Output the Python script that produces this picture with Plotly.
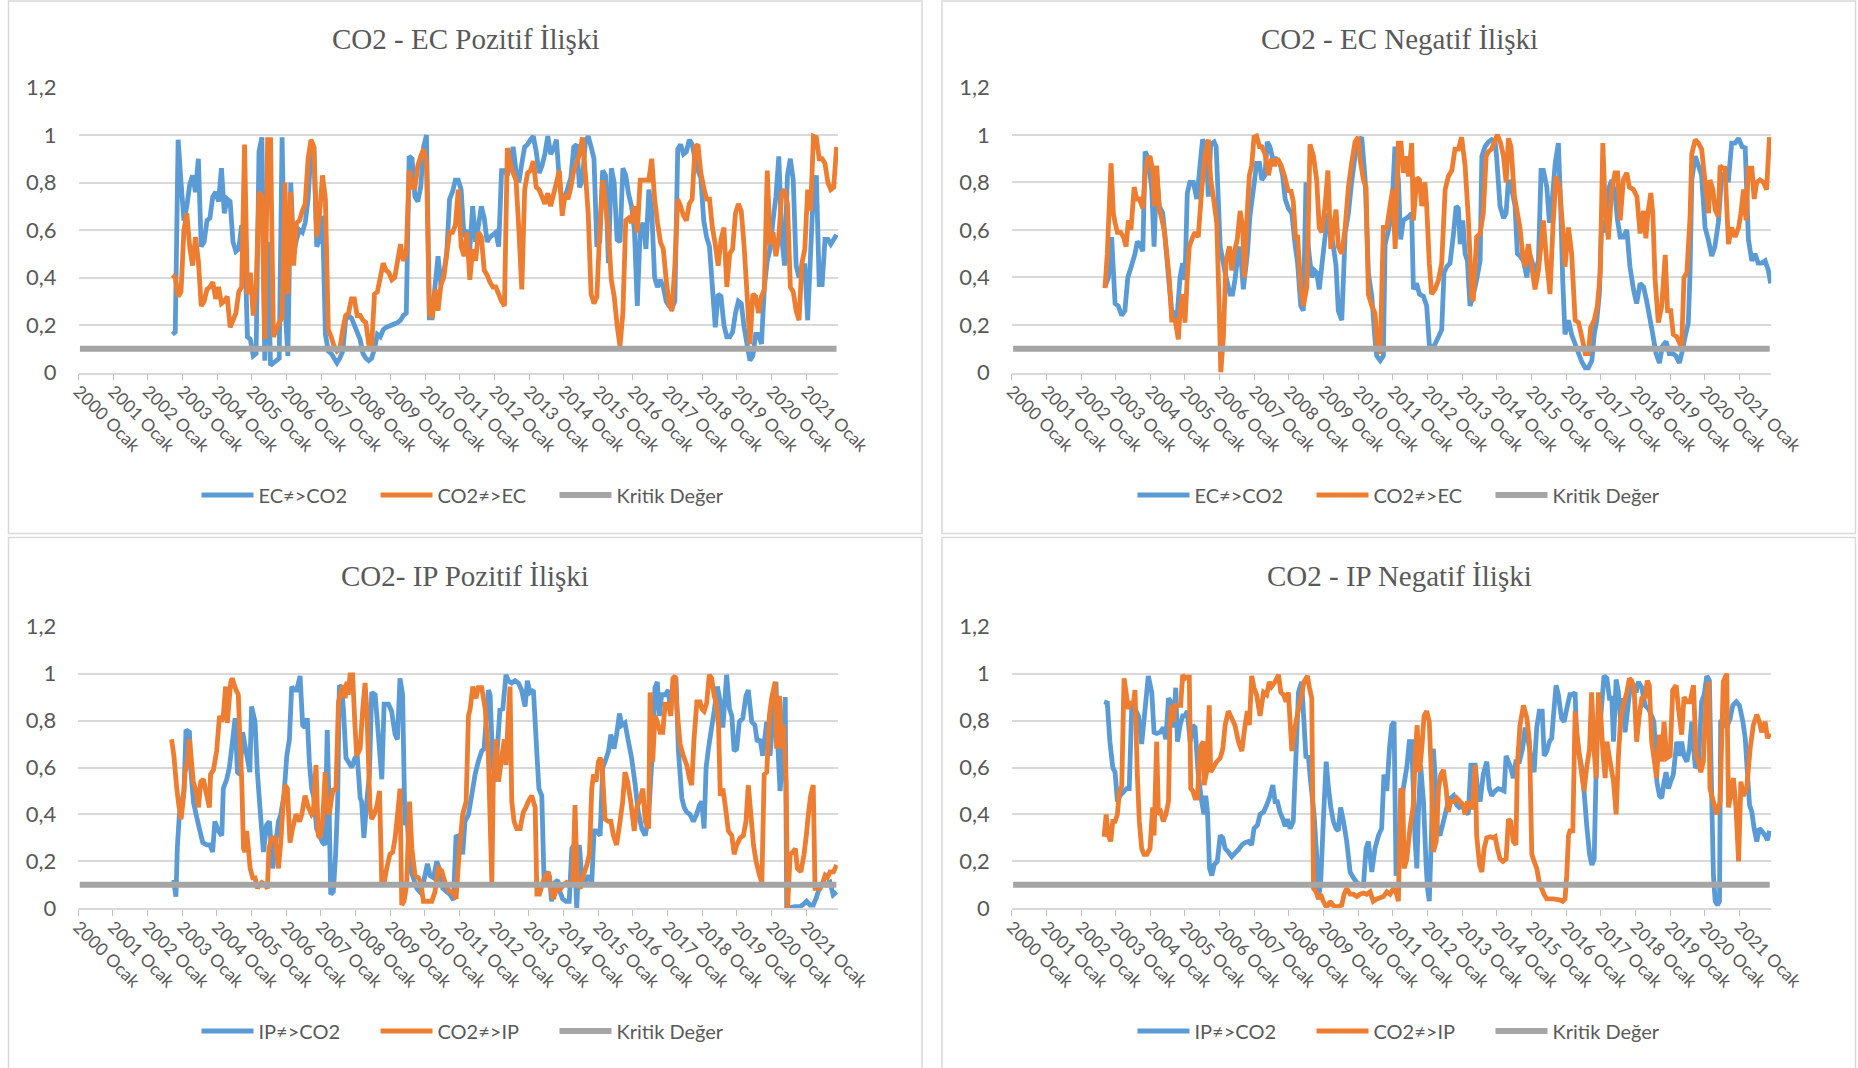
import plotly.graph_objects as go

#######################################################################################################################
# Data
#######################################################################################################################
# x positions are months counted from 2000 Ocak (0 = 2000 Ocak, 262 = 2021 Kasim)
n_months = 263
tick_years = [2000, 2001, 2002, 2003, 2004, 2005, 2006, 2007, 2008, 2009, 2010,
              2011, 2012, 2013, 2014, 2015, 2016, 2017, 2018, 2019, 2020, 2021]
tick_labels = ["2000 Ocak", "2001 Ocak", "2002 Ocak", "2003 Ocak", "2004 Ocak", "2005 Ocak",
               "2006 Ocak", "2007 Ocak", "2008 Ocak", "2009 Ocak", "2010 Ocak", "2011 Ocak",
               "2012 Ocak", "2013 Ocak", "2014 Ocak", "2015 Ocak", "2016 Ocak", "2017 Ocak",
               "2018 Ocak", "2019 Ocak", "2020 Ocak", "2021 Ocak"]
y_ticks = [0, 0.2, 0.4, 0.6, 0.8, 1.0, 1.2]
y_labels = ["0", "0,2", "0,4", "0,6", "0,8", "1", "1,2"]

kritik_x = [0, 262]
kritik_y = [0.1, 0.1]

# ==============================================================================
# CO2 - EC Pozitif (monthly, from 2002 Eylul = month 32)
# ==============================================================================
tl_start = 32
tl_ec_co2 = [
    0.16, 0.17, 0.98, 0.80, 0.64, 0.70, 0.79, 0.83, 0.76, 0.90,
    0.53, 0.55, 0.64, 0.65, 0.74, 0.76, 0.72, 0.86, 0.67, 0.73,
    0.72, 0.55, 0.51, 0.52, 0.62, 0.58, 0.15, 0.14, 0.07, 0.08,
    0.93, 0.99, 0.05, 0.55, 0.03, 0.04, 0.05, 0.06, 0.99, 0.28,
    0.07, 0.80, 0.50, 0.56, 0.60, 0.59, 0.63, 0.73, 0.93, 0.95,
    0.53, 0.56, 0.66, 0.16, 0.09, 0.08, 0.06, 0.04, 0.06, 0.09,
    0.22, 0.24, 0.23, 0.20, 0.17, 0.14, 0.08, 0.06, 0.05, 0.06,
    0.10, 0.16, 0.15, 0.18, 0.19, 0.195, 0.20, 0.205, 0.21, 0.22,
    0.24, 0.25, 0.91, 0.90, 0.74, 0.72, 0.78, 0.95, 1.00, 0.23,
    0.23, 0.37, 0.49, 0.37, 0.42, 0.50, 0.73, 0.76, 0.81, 0.81,
    0.77, 0.57, 0.60, 0.52, 0.70, 0.55, 0.62, 0.70, 0.65, 0.55,
    0.57, 0.58, 0.59, 0.53, 0.85, 0.85, 0.83, 0.88, 0.95, 0.85,
    0.80, 0.88, 0.95, 0.96, 0.98, 0.995, 0.93, 0.84, 0.87, 0.92,
    0.995, 0.92, 0.94, 0.98, 0.81, 0.72, 0.74, 0.78, 0.82, 0.95,
    0.96, 0.78, 0.81, 0.97, 0.995, 0.95, 0.90, 0.53, 0.55, 0.85,
    0.83, 0.46, 0.86, 0.80, 0.56, 0.55, 0.86, 0.83, 0.75, 0.70,
    0.60, 0.28, 0.60, 0.63, 0.52, 0.77, 0.68, 0.40, 0.36, 0.39,
    0.36, 0.30, 0.28, 0.27, 0.30, 0.94, 0.96, 0.92, 0.93, 0.98,
    0.96, 0.90, 0.85, 0.82, 0.64, 0.57, 0.53, 0.36, 0.19, 0.33,
    0.32, 0.20, 0.15, 0.15, 0.17, 0.25, 0.30, 0.29, 0.19, 0.12,
    0.05, 0.07, 0.16, 0.16, 0.12, 0.36, 0.47, 0.52, 0.64, 0.74,
    0.91, 0.57, 0.45, 0.83, 0.90, 0.81, 0.45, 0.40, 0.45, 0.45,
    0.22, 0.50, 0.77, 0.83, 0.37, 0.37, 0.56, 0.56, 0.54, 0.56, 0.58,
]
tl_co2_ec = [
    0.41, 0.40, 0.32, 0.34, 0.60, 0.67, 0.53, 0.45, 0.57, 0.47,
    0.28, 0.30, 0.35, 0.36, 0.38, 0.31, 0.36, 0.29, 0.30, 0.32,
    0.19, 0.22, 0.25, 0.34, 0.36, 0.96, 0.33, 0.42, 0.24, 0.36,
    0.76, 0.74, 0.14, 0.98, 0.98, 0.15, 0.18, 0.21, 0.23, 0.80,
    0.33, 0.76, 0.45, 0.63, 0.64, 0.68, 0.71, 0.90, 0.98, 0.95,
    0.57, 0.67, 0.83, 0.73, 0.18, 0.15, 0.11, 0.09, 0.10, 0.18,
    0.24, 0.25, 0.31, 0.31, 0.24, 0.24, 0.22, 0.21, 0.12, 0.11,
    0.33, 0.34, 0.40, 0.46, 0.43, 0.42, 0.39, 0.40, 0.47, 0.54,
    0.47, 0.50, 0.85, 0.78, 0.78, 0.87, 0.91, 0.94, 0.88, 0.25,
    0.23, 0.35, 0.26, 0.37, 0.40, 0.50, 0.59, 0.59, 0.62, 0.77,
    0.53, 0.49, 0.59, 0.39, 0.52, 0.47, 0.59, 0.57, 0.43, 0.41,
    0.38, 0.36, 0.36, 0.33, 0.30, 0.28, 0.945, 0.88, 0.84, 0.81,
    0.60, 0.35, 0.77, 0.84, 0.85, 0.89, 0.78, 0.77, 0.74, 0.71,
    0.755, 0.70, 0.75, 0.80, 0.85, 0.66, 0.75, 0.73, 0.78, 0.85,
    0.88, 0.92, 0.99, 0.84, 0.67, 0.33, 0.29, 0.32, 0.60, 0.81,
    0.71, 0.59, 0.39, 0.32, 0.20, 0.11, 0.25, 0.64, 0.65, 0.63,
    0.70, 0.59, 0.81, 0.81, 0.81, 0.81, 0.90, 0.73, 0.63, 0.55,
    0.52, 0.39, 0.29, 0.26, 0.45, 0.73, 0.70, 0.66, 0.64, 0.71,
    0.73, 0.95, 0.96, 0.84, 0.78, 0.73, 0.73, 0.61, 0.54, 0.45,
    0.56, 0.61, 0.36, 0.50, 0.52, 0.67, 0.71, 0.68, 0.53, 0.33,
    0.12, 0.33, 0.32, 0.25, 0.32, 0.35, 0.85, 0.54, 0.59, 0.49,
    0.57, 0.755, 0.77, 0.71, 0.36, 0.34, 0.26, 0.22, 0.46, 0.52,
    0.77, 0.68, 0.995, 0.99, 0.90, 0.90, 0.88, 0.80, 0.77, 0.78, 0.95,
]

# ==============================================================================
# CO2 - EC Negatif (month position, value)
# ==============================================================================
tr_ec_co2 = [
    (31.8, 0.36), (33.0, 0.40), (34.1, 0.57), (35.3, 0.29), (36.4, 0.28), (37.6, 0.24), (38.7, 0.26),
    (39.7, 0.40), (41.0, 0.45), (42.2, 0.50), (43.0, 0.55), (43.9, 0.54), (44.9, 0.51), (45.7, 0.93),
    (46.8, 0.90), (48.0, 0.77), (48.8, 0.53), (49.7, 0.83), (50.6, 0.70), (51.8, 0.67), (52.6, 0.57),
    (53.8, 0.40), (54.9, 0.26), (55.7, 0.25), (56.6, 0.21), (57.8, 0.40), (58.7, 0.46), (59.5, 0.39),
    (60.3, 0.755), (61.2, 0.80), (62.4, 0.80), (63.6, 0.73), (64.7, 0.87), (65.6, 0.98), (66.8, 0.95),
    (67.6, 0.74), (68.4, 0.96), (69.6, 0.97), (70.3, 0.95), (71.7, 0.53), (73.4, 0.42), (75.1, 0.33),
    (76.0, 0.33), (76.8, 0.39), (77.4, 0.45), (78.3, 0.53), (79.1, 0.45), (79.7, 0.35), (81.1, 0.50),
    (82.0, 0.66), (83.5, 0.80), (84.3, 0.88), (85.3, 0.88), (86.1, 0.81), (87.2, 0.83), (88.0, 0.97),
    (88.9, 0.95), (89.9, 0.90), (91.0, 0.90), (92.4, 0.88), (93.3, 0.83), (94.2, 0.73), (95.3, 0.69),
    (96.5, 0.67), (97.6, 0.54), (98.5, 0.46), (99.6, 0.28), (100.5, 0.26), (101.4, 0.80), (102.2, 0.53),
    (103.4, 0.40), (104.3, 0.43), (105.1, 0.42), (106.0, 0.35), (106.9, 0.45), (108.0, 0.57), (109.2, 0.67),
    (110.1, 0.59), (110.9, 0.53), (111.8, 0.45), (112.6, 0.26), (113.8, 0.22), (115.0, 0.59), (116.1, 0.67),
    (117.2, 0.80), (118.4, 0.91), (119.5, 0.97), (120.7, 0.99), (121.9, 0.81), (123.0, 0.42), (124.2, 0.32),
    (125.3, 0.14), (125.9, 0.07), (127.1, 0.05), (128.2, 0.07), (128.8, 0.54), (130.0, 0.60), (131.1, 0.67),
    (132.2, 0.95), (133.4, 0.81), (134.2, 0.56), (135.1, 0.64), (136.9, 0.655), (138.0, 0.67), (138.6, 0.35),
    (139.7, 0.375), (140.7, 0.33), (142.1, 0.32), (143.2, 0.28), (144.1, 0.12), (144.9, 0.094), (146.1, 0.12),
    (147.3, 0.15), (148.4, 0.18), (149.2, 0.42), (150.1, 0.445), (151.3, 0.46), (152.5, 0.585), (153.4, 0.70),
    (154.2, 0.69), (154.8, 0.54), (155.7, 0.64), (156.5, 0.50), (157.3, 0.47), (158.2, 0.28), (159.2, 0.32),
    (160.5, 0.39), (161.7, 0.47), (162.3, 0.91), (163.4, 0.95), (164.6, 0.97), (165.7, 0.98), (166.9, 0.97),
    (167.4, 0.91), (168.6, 0.70), (169.8, 0.65), (170.7, 0.67), (171.5, 0.81), (172.7, 0.77), (173.8, 0.70),
    (174.6, 0.50), (175.5, 0.49), (176.7, 0.47), (177.9, 0.40), (178.8, 0.50), (179.6, 0.47), (180.7, 0.42),
    (181.9, 0.47), (182.8, 0.85), (183.6, 0.85), (184.8, 0.78), (185.7, 0.63), (186.5, 0.70), (187.7, 0.88),
    (188.8, 0.965), (189.6, 0.70), (190.3, 0.39), (191.1, 0.16), (192.3, 0.22), (193.4, 0.16), (194.6, 0.12),
    (195.8, 0.08), (196.9, 0.045), (198.1, 0.02), (199.2, 0.02), (200.4, 0.05), (201.2, 0.16), (202.1, 0.22),
    (203.0, 0.33), (203.8, 0.64), (205.0, 0.59), (206.1, 0.77), (207.3, 0.81), (208.4, 0.75), (209.3, 0.64),
    (210.2, 0.57), (211.3, 0.57), (212.5, 0.60), (213.6, 0.445), (214.8, 0.35), (215.9, 0.29), (217.1, 0.375),
    (218.3, 0.36), (219.4, 0.30), (220.6, 0.22), (221.5, 0.16), (222.6, 0.08), (223.8, 0.04), (224.8, 0.11),
    (226.1, 0.13), (227.2, 0.08), (228.4, 0.08), (229.5, 0.07), (230.7, 0.04), (231.5, 0.08), (232.7, 0.15),
    (233.8, 0.21), (234.4, 0.42), (235.0, 0.81), (236.2, 0.91), (237.3, 0.87), (238.4, 0.83), (239.6, 0.61),
    (240.7, 0.56), (241.9, 0.49), (243.0, 0.53), (244.2, 0.63), (245.4, 0.84), (246.5, 0.81), (247.7, 0.81),
    (248.8, 0.965), (250.0, 0.965), (251.2, 0.985), (252.4, 0.95), (253.5, 0.945), (254.6, 0.56), (255.8, 0.47),
    (256.9, 0.50), (258.0, 0.46), (259.2, 0.46), (260.4, 0.47), (261.5, 0.43), (262.3, 0.375),
]
tr_co2_ec = [
    (31.8, 0.355), (32.6, 0.50), (33.9, 0.88), (34.7, 0.67), (35.3, 0.63), (36.1, 0.59), (37.2, 0.59),
    (38.2, 0.57), (39.1, 0.53), (39.9, 0.64), (40.8, 0.60), (41.9, 0.78), (42.8, 0.73), (43.7, 0.73),
    (44.9, 0.69), (45.7, 0.83), (46.6, 0.90), (47.4, 0.91), (48.3, 0.85), (48.9, 0.70), (49.7, 0.87),
    (50.6, 0.685), (51.2, 0.66), (52.3, 0.60), (53.2, 0.50), (54.1, 0.39), (54.9, 0.22), (56.1, 0.22),
    (57.2, 0.14), (57.8, 0.26), (58.7, 0.33), (59.5, 0.21), (60.3, 0.40), (61.0, 0.53), (62.2, 0.57),
    (63.0, 0.59), (64.1, 0.57), (65.3, 0.77), (66.5, 0.92), (67.6, 0.98), (68.4, 0.81), (69.3, 0.74),
    (70.5, 0.63), (71.4, 0.25), (71.9, 0.0), (72.8, 0.15), (73.7, 0.47), (74.9, 0.53), (75.7, 0.43),
    (76.5, 0.50), (77.6, 0.56), (78.6, 0.68), (79.5, 0.61), (80.1, 0.40), (80.9, 0.64), (81.8, 0.83),
    (82.6, 0.87), (83.4, 0.99), (84.3, 0.995), (85.3, 0.95), (86.1, 0.95), (87.2, 0.92), (88.4, 0.83),
    (89.5, 0.90), (90.5, 0.87), (91.6, 0.90), (92.8, 0.87), (93.9, 0.83), (95.3, 0.76), (96.1, 0.77),
    (97.0, 0.72), (97.8, 0.57), (98.5, 0.57), (99.6, 0.36), (100.5, 0.28), (101.7, 0.36), (102.8, 0.96),
    (104.0, 0.91), (105.1, 0.81), (106.0, 0.61), (106.9, 0.59), (108.0, 0.70), (109.0, 0.85), (110.0, 0.52),
    (110.9, 0.61), (111.8, 0.685), (112.6, 0.53), (113.8, 0.50), (114.9, 0.60), (116.1, 0.78), (117.2, 0.88),
    (118.4, 0.97), (119.5, 0.99), (120.1, 0.90), (121.3, 0.81), (122.2, 0.78), (123.0, 0.33), (124.2, 0.28),
    (125.3, 0.25), (126.1, 0.11), (127.1, 0.08), (128.2, 0.61), (129.4, 0.61), (130.5, 0.70), (131.4, 0.77),
    (132.3, 0.52), (133.4, 0.965), (134.3, 0.965), (135.1, 0.84), (136.1, 0.91), (136.9, 0.825), (138.0, 0.965),
    (138.6, 0.64), (139.8, 0.82), (140.7, 0.81), (141.5, 0.70), (142.6, 0.80), (143.2, 0.70), (144.1, 0.46),
    (144.9, 0.33), (146.1, 0.35), (147.3, 0.39), (148.4, 0.46), (149.6, 0.77), (150.7, 0.825), (151.9, 0.85),
    (153.0, 0.94), (154.2, 0.94), (155.3, 0.99), (156.5, 0.87), (157.6, 0.655), (158.8, 0.32), (159.3, 0.30),
    (160.5, 0.57), (161.7, 0.585), (162.8, 0.67), (163.8, 0.91), (164.6, 0.93), (165.7, 0.94), (166.9, 0.98),
    (167.7, 1.0), (168.8, 0.965), (169.8, 0.91), (170.7, 0.80), (171.5, 0.985), (172.4, 0.95), (173.6, 0.74),
    (174.6, 0.67), (175.5, 0.61), (176.5, 0.49), (177.3, 0.445), (178.4, 0.54), (179.6, 0.445), (180.7, 0.35),
    (181.9, 0.43), (183.6, 0.64), (184.8, 0.46), (185.9, 0.33), (186.9, 0.61), (188.0, 0.825), (189.2, 0.78),
    (190.3, 0.61), (191.1, 0.445), (192.3, 0.61), (193.4, 0.50), (194.6, 0.22), (195.8, 0.21), (196.9, 0.15),
    (198.1, 0.08), (199.2, 0.08), (200.0, 0.19), (201.2, 0.22), (202.3, 0.28), (203.3, 0.42), (204.2, 0.965),
    (205.0, 0.70), (206.1, 0.56), (207.3, 0.77), (208.4, 0.84), (209.3, 0.84), (210.2, 0.64), (211.3, 0.81),
    (212.5, 0.84), (213.4, 0.78), (214.8, 0.77), (216.0, 0.74), (217.1, 0.585), (218.3, 0.68), (219.1, 0.565),
    (219.8, 0.67), (220.8, 0.755), (221.5, 0.67), (222.3, 0.39), (223.4, 0.21), (224.6, 0.28), (225.8, 0.495),
    (226.6, 0.26), (227.7, 0.26), (228.6, 0.16), (229.8, 0.15), (230.9, 0.12), (231.5, 0.11), (232.3, 0.40),
    (233.3, 0.42), (234.4, 0.655), (235.0, 0.92), (236.2, 0.98), (237.3, 0.965), (238.4, 0.94), (239.6, 0.80),
    (240.8, 0.67), (241.3, 0.81), (242.3, 0.77), (243.1, 0.685), (244.2, 0.655), (244.8, 0.87), (245.7, 0.86),
    (246.5, 0.86), (247.7, 0.54), (248.8, 0.61), (250.0, 0.57), (251.2, 0.61), (252.0, 0.67), (252.9, 0.77),
    (253.8, 0.64), (254.6, 0.86), (255.8, 0.86), (256.6, 0.73), (257.5, 0.80), (258.6, 0.81), (259.8, 0.80),
    (260.9, 0.77), (261.9, 0.99),
]

# ==============================================================================
# CO2 - IP Pozitif (month position, value)
# ==============================================================================
bl_ip_co2 = [
    (31.8, 0.11), (32.6, 0.11), (33.3, 0.05), (33.8, 0.26), (34.5, 0.40), (35.3, 0.45), (36.1, 0.50),
    (36.8, 0.76), (38.0, 0.75), (38.4, 0.60), (39.4, 0.45), (40.3, 0.40), (41.4, 0.34), (42.6, 0.28),
    (44.0, 0.27), (45.1, 0.27), (46.0, 0.24), (46.8, 0.37), (48.0, 0.33), (49.2, 0.31), (49.7, 0.51),
    (50.9, 0.55), (51.8, 0.60), (52.6, 0.68), (53.8, 0.81), (54.6, 0.58), (55.5, 0.57), (56.4, 0.75),
    (58.9, 0.58), (59.5, 0.86), (60.7, 0.795), (61.5, 0.58), (62.4, 0.43), (63.6, 0.24), (64.7, 0.355),
    (65.7, 0.37), (66.8, 0.17), (67.7, 0.26), (68.8, 0.37), (69.6, 0.40), (70.7, 0.48), (71.7, 0.65),
    (72.6, 0.72), (73.4, 0.945), (74.2, 0.93), (75.1, 0.93), (76.3, 0.99), (77.2, 0.78), (78.0, 0.77),
    (78.8, 0.81), (79.5, 0.625), (80.3, 0.51), (81.1, 0.47), (82.0, 0.34), (83.0, 0.31), (84.1, 0.28),
    (84.9, 0.27), (85.7, 0.76), (86.4, 0.40), (86.9, 0.06), (87.8, 0.07), (88.6, 0.23), (89.3, 0.45),
    (89.9, 0.95), (90.7, 0.94), (91.3, 0.85), (92.2, 0.64), (93.0, 0.625), (94.2, 0.60), (95.3, 0.64),
    (96.1, 0.65), (97.1, 0.47), (97.6, 0.455), (98.4, 0.30), (99.4, 0.455), (100.3, 0.57), (101.1, 0.92),
    (102.3, 0.91), (103.4, 0.74), (104.6, 0.55), (105.4, 0.87), (106.9, 0.87), (108.0, 0.84), (109.2, 0.74),
    (110.0, 0.72), (110.9, 0.98), (111.8, 0.91), (112.6, 0.355), (113.4, 0.37), (114.4, 0.17), (115.5, 0.13),
    (116.7, 0.085), (117.8, 0.07), (119.0, 0.11), (120.4, 0.19), (121.3, 0.14), (122.5, 0.13), (123.6, 0.20),
    (124.5, 0.17), (125.7, 0.085), (127.1, 0.07), (128.2, 0.06), (129.4, 0.035), (130.3, 0.305), (131.5, 0.31),
    (132.6, 0.23), (133.4, 0.37), (134.6, 0.40), (135.7, 0.48), (136.9, 0.57), (138.0, 0.625), (139.2, 0.67),
    (140.0, 0.68), (141.5, 0.93), (142.1, 0.91), (143.0, 0.625), (143.8, 0.54), (144.6, 0.68), (145.5, 0.845),
    (146.5, 0.85), (147.6, 0.995), (148.4, 0.97), (149.6, 0.96), (150.7, 0.97), (151.9, 0.96), (153.0, 0.93),
    (154.2, 0.86), (155.0, 0.97), (155.9, 0.92), (157.1, 0.93), (158.2, 0.68), (159.0, 0.51), (160.0, 0.48),
    (160.8, 0.11), (161.7, 0.13), (162.6, 0.14), (163.4, 0.03), (164.6, 0.11), (165.5, 0.12), (166.3, 0.07),
    (167.2, 0.04), (168.4, 0.03), (169.5, 0.03), (170.4, 0.255), (171.2, 0.27), (172.1, 0.0), (173.0, 0.27),
    (173.8, 0.14), (175.0, 0.11), (176.1, 0.14), (177.3, 0.11), (178.1, 0.33), (179.0, 0.33), (180.2, 0.31),
    (181.1, 0.60), (181.9, 0.625), (183.1, 0.67), (183.9, 0.74), (185.0, 0.68), (185.9, 0.74), (186.9, 0.83),
    (187.7, 0.78), (188.8, 0.79), (190.0, 0.71), (191.1, 0.64), (192.3, 0.53), (193.4, 0.41), (194.6, 0.34),
    (195.8, 0.31), (196.9, 0.38), (198.1, 0.625), (199.2, 0.94), (200.0, 0.965), (200.7, 0.82), (201.5, 0.91),
    (202.7, 0.91), (203.8, 0.93), (204.6, 0.84), (205.6, 0.965), (206.5, 0.97), (207.3, 0.67), (208.5, 0.47),
    (209.3, 0.43), (210.2, 0.41), (211.3, 0.40), (212.5, 0.37), (213.6, 0.40), (214.6, 0.44), (215.4, 0.455),
    (216.2, 0.34), (216.9, 0.60), (217.7, 0.68), (218.8, 0.77), (219.7, 0.84), (220.8, 0.945), (221.8, 0.88),
    (222.7, 0.77), (223.5, 0.905), (224.0, 0.995), (225.0, 0.85), (225.8, 0.82), (226.6, 0.67), (227.5, 0.68),
    (228.4, 0.795), (229.6, 0.81), (230.7, 0.905), (231.5, 0.93), (232.7, 0.795), (233.8, 0.78), (234.6, 0.71),
    (235.6, 0.72), (236.5, 0.65), (237.9, 0.795), (239.0, 0.65), (240.2, 0.82), (241.1, 0.965), (241.9, 0.65),
    (242.5, 0.50), (243.4, 0.65), (244.3, 0.90), (244.8, 0.0), (246.0, 0.003), (247.7, 0.007), (249.4, 0.007),
    (250.6, 0.017), (251.7, 0.03), (252.9, 0.014), (254.0, 0.014), (254.9, 0.04), (256.1, 0.085), (257.5, 0.11),
    (258.6, 0.10), (259.8, 0.11), (260.9, 0.057), (262.1, 0.07),
]
bl_co2_ip = [
    (31.8, 0.72), (32.6, 0.65), (33.6, 0.51), (34.3, 0.44), (35.1, 0.38), (35.9, 0.47), (36.5, 0.58),
    (37.3, 0.625), (38.0, 0.72), (38.7, 0.625), (39.3, 0.54), (40.3, 0.50), (41.1, 0.43), (41.9, 0.54),
    (42.8, 0.55), (44.0, 0.48), (44.9, 0.43), (45.3, 0.57), (46.3, 0.59), (47.4, 0.67), (48.4, 0.82),
    (49.2, 0.795), (49.7, 0.82), (50.5, 0.945), (51.1, 0.79), (51.8, 0.895), (52.3, 0.965), (52.8, 0.98),
    (53.8, 0.94), (54.9, 0.91), (55.5, 0.71), (56.1, 0.54), (56.7, 0.255), (57.2, 0.24), (57.8, 0.33),
    (58.4, 0.255), (59.0, 0.17), (59.9, 0.13), (60.7, 0.13), (61.5, 0.085), (62.2, 0.10), (63.0, 0.11),
    (64.2, 0.10), (65.0, 0.085), (65.5, 0.255), (66.5, 0.30), (67.6, 0.30), (68.8, 0.17), (69.6, 0.28),
    (70.5, 0.455), (71.1, 0.525), (71.9, 0.51), (72.8, 0.28), (73.7, 0.34), (74.9, 0.40), (76.1, 0.37),
    (76.9, 0.40), (78.0, 0.48), (79.2, 0.43), (80.3, 0.40), (80.9, 0.41), (81.8, 0.61), (82.6, 0.31),
    (83.2, 0.30), (84.1, 0.37), (85.0, 0.58), (85.5, 0.43), (86.4, 0.40), (87.2, 0.47), (87.8, 0.51),
    (88.7, 0.50), (89.6, 0.88), (90.4, 0.92), (91.3, 0.95), (91.9, 0.895), (92.5, 0.965), (93.0, 0.91),
    (93.6, 0.995), (94.5, 0.995), (95.3, 0.78), (95.9, 0.65), (97.1, 0.68), (98.0, 0.85), (98.8, 0.96),
    (99.4, 0.85), (100.5, 0.43), (101.1, 0.38), (101.9, 0.40), (102.8, 0.43), (103.8, 0.50), (104.6, 0.10),
    (105.4, 0.11), (106.3, 0.17), (107.4, 0.23), (108.4, 0.24), (109.2, 0.30), (110.3, 0.43), (110.9, 0.51),
    (111.5, 0.014), (112.3, 0.03), (113.2, 0.10), (114.2, 0.455), (115.0, 0.255), (116.1, 0.14), (117.3, 0.13),
    (118.1, 0.11), (119.0, 0.03), (121.9, 0.03), (123.0, 0.07), (124.2, 0.17), (125.3, 0.16), (126.5, 0.11),
    (128.0, 0.07), (129.2, 0.07), (130.3, 0.04), (131.5, 0.255), (132.6, 0.40), (133.8, 0.455), (134.6, 0.82),
    (135.2, 0.85), (136.1, 0.945), (137.2, 0.895), (138.0, 0.94), (139.2, 0.94), (140.4, 0.85), (141.5, 0.65),
    (142.7, 0.11), (143.2, 0.54), (144.2, 0.72), (145.0, 0.54), (146.1, 0.64), (147.0, 0.72), (147.6, 0.61),
    (148.4, 0.82), (149.0, 0.945), (149.6, 0.455), (150.4, 0.37), (151.3, 0.34), (152.5, 0.34), (153.6, 0.41),
    (154.5, 0.43), (155.3, 0.455), (156.5, 0.48), (157.7, 0.43), (158.3, 0.06), (159.2, 0.06), (160.3, 0.11),
    (161.5, 0.14), (162.3, 0.155), (163.2, 0.085), (164.0, 0.04), (165.2, 0.085), (166.3, 0.08), (167.5, 0.10),
    (168.6, 0.11), (169.6, 0.10), (170.7, 0.10), (171.5, 0.44), (172.3, 0.10), (173.3, 0.085), (174.4, 0.14),
    (175.6, 0.185), (176.5, 0.23), (177.3, 0.51), (177.9, 0.57), (178.8, 0.54), (179.6, 0.625), (180.2, 0.64),
    (180.8, 0.625), (181.9, 0.38), (183.1, 0.37), (183.9, 0.37), (184.8, 0.31), (185.9, 0.27), (187.1, 0.37),
    (188.0, 0.455), (188.8, 0.58), (189.7, 0.54), (190.8, 0.455), (192.0, 0.33), (192.9, 0.43), (193.8, 0.455),
    (195.0, 0.51), (195.8, 0.37), (197.0, 0.34), (197.5, 0.92), (198.4, 0.625), (199.2, 0.82), (200.0, 0.795),
    (201.0, 0.75), (201.9, 0.75), (202.7, 0.87), (203.8, 0.87), (204.7, 0.82), (205.4, 0.98), (206.2, 0.99),
    (206.8, 0.85), (207.9, 0.70), (209.0, 0.65), (210.2, 0.61), (211.1, 0.555), (211.9, 0.525), (212.7, 0.72),
    (213.7, 0.88), (214.8, 0.88), (215.4, 0.85), (216.2, 0.84), (217.1, 0.875), (218.0, 0.995), (218.8, 0.98),
    (219.7, 0.905), (220.3, 0.88), (221.2, 0.78), (221.8, 0.48), (222.7, 0.51), (223.5, 0.44), (224.6, 0.33),
    (225.8, 0.31), (226.6, 0.23), (227.5, 0.27), (228.7, 0.30), (229.8, 0.31), (230.7, 0.37), (231.5, 0.525),
    (232.4, 0.40), (233.3, 0.27), (234.2, 0.20), (235.4, 0.14), (236.2, 0.11), (237.0, 0.57), (237.9, 0.58),
    (238.8, 0.82), (239.6, 0.895), (240.8, 0.965), (241.3, 0.68), (242.3, 0.905), (243.1, 0.68), (243.7, 0.78),
    (244.6, 0.54), (245.1, 0.0), (246.0, 0.23), (247.0, 0.24), (247.8, 0.255), (248.5, 0.17), (249.7, 0.155),
    (250.8, 0.23), (251.5, 0.30), (252.3, 0.40), (253.1, 0.48), (254.0, 0.525), (254.6, 0.085), (255.4, 0.085),
    (256.4, 0.085), (257.3, 0.11), (258.1, 0.14), (258.9, 0.13), (259.8, 0.155), (261.0, 0.155), (262.1, 0.185),
]

# ==============================================================================
# CO2 - IP Negatif (month position, value)
# ==============================================================================
br_ip_co2 = [
    (31.5, 0.88), (32.6, 0.875), (33.5, 0.71), (34.5, 0.60), (35.3, 0.58), (36.1, 0.455), (37.0, 0.48),
    (39.3, 0.51), (40.2, 0.51), (41.1, 0.87), (42.2, 0.85), (43.4, 0.82), (44.5, 0.70), (46.8, 0.99),
    (48.0, 0.92), (48.8, 0.75), (49.7, 0.745), (50.9, 0.75), (52.0, 0.77), (52.9, 0.72), (53.8, 0.895),
    (54.6, 0.88), (55.5, 0.77), (56.3, 0.94), (56.9, 0.71), (57.8, 0.78), (58.7, 0.82), (59.5, 0.82),
    (60.3, 0.84), (61.3, 0.71), (62.2, 0.78), (63.0, 0.77), (64.1, 0.57), (65.3, 0.455), (66.1, 0.40),
    (66.7, 0.48), (67.3, 0.41), (68.0, 0.17), (68.8, 0.14), (69.6, 0.185), (70.7, 0.20), (71.7, 0.31),
    (72.6, 0.30), (73.4, 0.255), (74.5, 0.24), (75.7, 0.22), (76.8, 0.235), (78.0, 0.25), (79.2, 0.27),
    (80.3, 0.28), (81.5, 0.285), (82.6, 0.27), (83.4, 0.34), (84.6, 0.355), (85.5, 0.40), (86.7, 0.41),
    (87.8, 0.44), (89.0, 0.48), (89.9, 0.525), (90.7, 0.455), (91.5, 0.455), (92.4, 0.41), (93.4, 0.38),
    (94.2, 0.35), (95.0, 0.38), (95.9, 0.34), (97.0, 0.37), (98.0, 0.67), (98.8, 0.92), (99.9, 0.965),
    (100.7, 0.795), (101.4, 0.64), (102.2, 0.65), (103.0, 0.54), (104.2, 0.40), (105.1, 0.23), (105.7, 0.04),
    (106.5, 0.11), (107.4, 0.37), (108.4, 0.625), (109.2, 0.51), (110.0, 0.43), (110.9, 0.37), (111.8, 0.34),
    (112.6, 0.33), (113.4, 0.43), (114.4, 0.37), (115.5, 0.285), (116.7, 0.155), (117.8, 0.13), (119.0, 0.11),
    (120.1, 0.10), (121.3, 0.097), (122.2, 0.255), (123.0, 0.285), (124.2, 0.155), (125.3, 0.255), (126.5, 0.31),
    (127.6, 0.34), (128.4, 0.57), (129.4, 0.50), (130.3, 0.68), (131.1, 0.78), (131.9, 0.795), (132.6, 0.14),
    (133.4, 0.155), (134.2, 0.40), (135.1, 0.51), (136.3, 0.60), (137.2, 0.71), (138.0, 0.71), (139.2, 0.285),
    (139.8, 0.17), (140.3, 0.40), (141.1, 0.61), (142.1, 0.455), (143.0, 0.185), (143.5, 0.085), (144.1, 0.03),
    (144.9, 0.33), (145.5, 0.68), (146.1, 0.57), (146.9, 0.33), (147.8, 0.31), (148.7, 0.355), (149.6, 0.40),
    (150.7, 0.455), (151.5, 0.47), (152.5, 0.48), (153.6, 0.44), (154.5, 0.43), (155.7, 0.44), (156.8, 0.41),
    (157.6, 0.40), (158.5, 0.61), (160.0, 0.61), (160.8, 0.51), (161.7, 0.455), (162.8, 0.57), (164.0, 0.625),
    (164.9, 0.51), (165.7, 0.48), (166.9, 0.50), (168.0, 0.51), (169.2, 0.505), (170.0, 0.50), (170.7, 0.65),
    (171.5, 0.625), (172.3, 0.60), (173.2, 0.555), (174.1, 0.625), (175.3, 0.625), (176.4, 0.68), (177.3, 0.77),
    (178.4, 0.71), (179.6, 0.625), (180.4, 0.58), (181.3, 0.77), (182.2, 0.84), (183.2, 0.84), (183.9, 0.65),
    (184.8, 0.67), (185.7, 0.71), (186.5, 0.725), (187.1, 0.82), (188.0, 0.95), (188.8, 0.91), (189.9, 0.81),
    (190.8, 0.795), (191.7, 0.85), (192.8, 0.91), (193.8, 0.91), (194.6, 0.92), (195.2, 0.68), (196.1, 0.65),
    (196.9, 0.60), (197.7, 0.50), (198.6, 0.355), (199.6, 0.23), (200.4, 0.185), (201.2, 0.21), (202.1, 0.71),
    (202.7, 0.85), (203.5, 0.82), (204.6, 0.99), (205.6, 0.98), (206.5, 0.895), (207.3, 0.895), (207.9, 0.71),
    (208.8, 0.975), (209.6, 0.92), (210.4, 0.795), (211.1, 0.895), (211.9, 0.75), (213.1, 0.88), (213.9, 0.965),
    (214.8, 0.95), (215.7, 0.92), (216.5, 0.965), (217.7, 0.94), (218.8, 0.865), (220.0, 0.85), (221.1, 0.82),
    (221.9, 0.795), (222.9, 0.54), (223.8, 0.48), (224.6, 0.47), (225.4, 0.54), (226.1, 0.58), (226.9, 0.51),
    (227.7, 0.54), (228.6, 0.57), (229.8, 0.71), (230.7, 0.65), (231.5, 0.71), (232.3, 0.65), (233.3, 0.625),
    (234.2, 0.68), (235.0, 0.795), (236.2, 0.60), (237.3, 0.61), (238.4, 0.88), (239.3, 0.91), (240.2, 0.99),
    (241.1, 0.97), (241.9, 0.47), (242.5, 0.14), (243.1, 0.03), (243.9, 0.014), (244.6, 0.03), (245.0, 0.795),
    (245.9, 0.81), (247.1, 0.77), (248.3, 0.81), (249.2, 0.865), (250.4, 0.88), (251.5, 0.865), (252.7, 0.795),
    (253.5, 0.725), (254.3, 0.57), (255.0, 0.44), (255.8, 0.41), (256.6, 0.34), (257.5, 0.285), (258.4, 0.34),
    (259.2, 0.33), (260.4, 0.31), (261.2, 0.29), (261.9, 0.33),
]
br_co2_ip = [
    (31.5, 0.305), (32.2, 0.40), (33.0, 0.31), (33.8, 0.285), (34.5, 0.37), (35.3, 0.37), (36.1, 0.40),
    (36.8, 0.50), (37.6, 0.52), (38.4, 0.98), (39.1, 0.92), (39.9, 0.85), (41.1, 0.88), (41.6, 0.87),
    (42.2, 0.93), (43.0, 0.57), (43.7, 0.37), (44.5, 0.255), (45.3, 0.23), (46.3, 0.23), (47.4, 0.255),
    (48.3, 0.43), (48.8, 0.31), (49.7, 0.71), (50.3, 0.40), (51.1, 0.41), (52.0, 0.37), (52.9, 0.40),
    (53.8, 0.455), (54.3, 0.795), (54.9, 0.865), (55.5, 0.795), (56.1, 0.865), (57.2, 0.865), (58.0, 0.865),
    (58.7, 0.995), (59.5, 0.98), (60.1, 0.985), (61.0, 0.985), (61.5, 0.51), (62.2, 0.50), (63.0, 0.47),
    (63.8, 0.47), (64.7, 0.68), (65.3, 0.70), (65.9, 0.71), (66.1, 0.525), (67.0, 0.58), (67.9, 0.865),
    (68.4, 0.58), (69.3, 0.60), (70.5, 0.625), (71.7, 0.64), (72.6, 0.68), (73.4, 0.78), (74.5, 0.84),
    (75.7, 0.81), (76.8, 0.78), (78.0, 0.71), (79.2, 0.67), (80.3, 0.78), (81.1, 0.84), (81.8, 0.78),
    (82.6, 0.99), (83.4, 0.94), (84.3, 0.91), (85.5, 0.82), (86.7, 0.92), (87.8, 0.91), (88.7, 0.965),
    (89.5, 0.945), (90.7, 0.965), (91.9, 0.995), (92.7, 0.92), (93.6, 0.91), (94.5, 0.88), (95.3, 0.92),
    (96.5, 0.67), (97.3, 0.75), (98.2, 0.81), (99.1, 0.865), (99.9, 0.91), (100.7, 0.965), (101.9, 0.99),
    (102.6, 0.94), (103.4, 0.895), (104.0, 0.085), (104.9, 0.07), (105.7, 0.04), (106.5, 0.06), (107.4, 0.03),
    (108.4, 0.007), (109.2, 0.014), (109.7, 0.03), (110.7, 0.014), (111.5, 0.007), (112.6, 0.007), (113.8, 0.014),
    (114.6, 0.06), (115.5, 0.085), (116.7, 0.06), (117.8, 0.06), (119.0, 0.05), (120.1, 0.06), (121.3, 0.065),
    (122.4, 0.06), (123.6, 0.07), (124.7, 0.03), (125.9, 0.04), (127.1, 0.045), (128.2, 0.05), (129.4, 0.07),
    (130.5, 0.06), (131.7, 0.085), (132.8, 0.06), (133.4, 0.03), (134.2, 0.51), (134.9, 0.50), (135.4, 0.17),
    (136.3, 0.21), (137.4, 0.34), (138.6, 0.44), (139.2, 0.64), (139.9, 0.78), (140.7, 0.58), (141.5, 0.68),
    (142.3, 0.82), (143.2, 0.84), (144.1, 0.795), (144.9, 0.54), (145.5, 0.24), (146.5, 0.285), (147.3, 0.51),
    (148.1, 0.57), (149.0, 0.59), (149.9, 0.51), (150.7, 0.41), (151.5, 0.455), (152.7, 0.455), (153.6, 0.47),
    (154.8, 0.455), (155.7, 0.44), (156.5, 0.40), (157.3, 0.455), (158.2, 0.43), (159.1, 0.43), (160.0, 0.61),
    (160.5, 0.31), (161.5, 0.185), (162.3, 0.155), (163.1, 0.255), (164.0, 0.30), (165.2, 0.305), (166.3, 0.30),
    (166.9, 0.305), (167.7, 0.255), (168.6, 0.21), (169.6, 0.20), (170.7, 0.21), (171.5, 0.38), (172.3, 0.37),
    (173.2, 0.285), (174.1, 0.27), (174.6, 0.61), (175.5, 0.78), (176.7, 0.865), (177.9, 0.81), (178.8, 0.71),
    (179.6, 0.23), (180.4, 0.20), (181.3, 0.17), (182.2, 0.11), (183.0, 0.085), (183.8, 0.06), (184.8, 0.04),
    (187.1, 0.04), (189.4, 0.035), (190.3, 0.03), (191.1, 0.04), (191.7, 0.14), (192.3, 0.31), (192.8, 0.33),
    (193.8, 0.33), (194.6, 0.84), (195.2, 0.75), (196.1, 0.65), (196.9, 0.57), (197.7, 0.50), (198.6, 0.60),
    (199.6, 0.68), (200.3, 0.92), (201.2, 0.67), (201.9, 0.555), (202.7, 0.92), (203.5, 0.82), (204.2, 0.67),
    (205.0, 0.555), (205.6, 0.71), (206.7, 0.625), (207.9, 0.54), (208.8, 0.40), (209.6, 0.65), (210.4, 0.81),
    (211.3, 0.865), (212.5, 0.92), (213.4, 0.98), (214.2, 0.97), (215.0, 0.94), (215.9, 0.71), (216.8, 0.82),
    (217.7, 0.895), (218.8, 0.90), (219.6, 0.97), (220.3, 0.95), (221.1, 0.71), (221.9, 0.64), (222.8, 0.555),
    (223.8, 0.74), (224.6, 0.625), (225.4, 0.795), (226.3, 0.64), (227.5, 0.65), (228.4, 0.93), (229.6, 0.95),
    (230.4, 0.85), (231.5, 0.74), (232.3, 0.90), (233.3, 0.88), (234.4, 0.88), (235.6, 0.95), (236.5, 0.65),
    (237.3, 0.625), (238.1, 0.58), (239.0, 0.625), (239.9, 0.88), (240.8, 0.965), (241.3, 0.51), (242.5, 0.455),
    (243.6, 0.40), (244.8, 0.455), (245.9, 0.965), (247.1, 1.0), (247.7, 0.43), (248.5, 0.48), (249.4, 0.555),
    (250.3, 0.43), (251.2, 0.20), (252.0, 0.54), (252.9, 0.48), (254.0, 0.51), (255.2, 0.68), (256.3, 0.78),
    (257.5, 0.825), (258.4, 0.795), (259.2, 0.75), (260.4, 0.795), (261.2, 0.725), (262.1, 0.745),
]

#######################################################################################################################
# Styling
#######################################################################################################################
W, H = 1858, 1068
BLUE = "#5B9BD5"
ORANGE = "#ED7D31"
GREY = "#A5A5A5"
TXT = "#595959"
GRID = "#D9D9D9"
SANS = "Lato, 'Liberation Sans', sans-serif"
SERIF = "'Liberation Serif', 'Times New Roman', serif"


def px_x(px):
    return px / W


def px_y(py):
    return 1 - py / H


def unzip(pairs):
    return [p[0] for p in pairs], [p[1] for p in pairs]


#######################################################################################################################
# Main
#######################################################################################################################
tl_months = list(range(tl_start, tl_start + len(tl_ec_co2)))

panels = [
    dict(title="CO2 - EC Pozitif İlişki", names=("EC≠>CO2", "CO2≠>EC"),
         blue=(tl_months, tl_ec_co2), orange=(tl_months, tl_co2_ec),
         plot=(78.5, 838.0, 87.5, 372.5), box=(8.5, 922.0, 1.0, 533.5),
         title_xy=(465, 39), legend_xy=(465, 495)),
    dict(title="CO2 - EC Negatif İlişki", names=("EC≠>CO2", "CO2≠>EC"),
         blue=unzip(tr_ec_co2), orange=unzip(tr_co2_ec),
         plot=(1011.7, 1771.2, 87.3, 372.5), box=(942.0, 1855.5, 1.0, 533.5),
         title_xy=(1399, 39), legend_xy=(1401, 495)),
    dict(title="CO2- IP Pozitif İlişki", names=("IP≠>CO2", "CO2≠>IP"),
         blue=unzip(bl_ip_co2), orange=unzip(bl_co2_ip),
         plot=(78.3, 837.8, 626.7, 908.3), box=(8.5, 922.0, 537.5, 1075.0),
         title_xy=(465, 576), legend_xy=(465, 1031)),
    dict(title="CO2 - IP Negatif İlişki", names=("IP≠>CO2", "CO2≠>IP"),
         blue=unzip(br_ip_co2), orange=unzip(br_co2_ip),
         plot=(1011.7, 1771.2, 626.7, 908.3), box=(942.0, 1855.5, 537.5, 1075.0),
         title_xy=(1399, 576), legend_xy=(1401, 1031)),
]

fig = go.Figure()
layout = dict(
    width=W, height=H, margin=dict(l=0, r=0, t=0, b=0, pad=0, autoexpand=False),
    paper_bgcolor="white", plot_bgcolor="white",
    showlegend=True, hovermode=False, shapes=[], annotations=[],
)

tick_pos = [(y - 2000) * 12 - 0.5 for y in tick_years]

for i, p in enumerate(panels):
    k = "" if i == 0 else str(i + 1)
    xa, ya = "x" + k, "y" + k
    leg = "legend" + k
    x0, x1, ytop, ybot = p["plot"]

    # ------------------------------------------
    # Series
    # ------------------------------------------
    fig.add_trace(go.Scatter(x=p["blue"][0], y=p["blue"][1], mode="lines", name=p["names"][0],
                             line=dict(color=BLUE, width=4.8, simplify=False),
                             xaxis=xa, yaxis=ya, legend=leg))
    fig.add_trace(go.Scatter(x=p["orange"][0], y=p["orange"][1], mode="lines", name=p["names"][1],
                             line=dict(color=ORANGE, width=4.8, simplify=False),
                             xaxis=xa, yaxis=ya, legend=leg))
    fig.add_trace(go.Scatter(x=kritik_x, y=kritik_y, mode="lines", name="Kritik Değer",
                             line=dict(color=GREY, width=6),
                             xaxis=xa, yaxis=ya, legend=leg))

    # ------------------------------------------
    # Axes
    # ------------------------------------------
    layout["xaxis" + k] = dict(
        domain=[px_x(x0), px_x(x1)], anchor=ya, range=[-0.5, n_months - 0.5],
        tickmode="array", tickvals=tick_pos, ticktext=tick_labels, tickangle=45,
        ticks="outside", ticklen=6, tickwidth=1.3, tickcolor="#BFBFBF",
        ticklabelstandoff=-6,
        showline=True, linecolor=GRID, linewidth=1.5, automargin=False,
        showgrid=False, zeroline=False, fixedrange=True,
        tickfont=dict(family=SANS, size=17.5, color=TXT),
    )
    layout["yaxis" + k] = dict(
        domain=[px_y(ybot), px_y(ytop)], anchor=xa, range=[0, 1.2],
        tickmode="array", tickvals=y_ticks, ticktext=y_labels,
        showgrid=True, gridcolor=GRID, gridwidth=1.5, automargin=False,
        zeroline=False, showline=False, ticks="", ticklabelstandoff=21,
        fixedrange=True, tickfont=dict(family=SANS, size=22, color=TXT),
    )

    # ------------------------------------------
    # Legend
    # ------------------------------------------
    layout[leg] = dict(
        orientation="h", xref="container", yref="container",
        x=px_x(p["legend_xy"][0]), y=px_y(p["legend_xy"][1]),
        xanchor="center", yanchor="middle", bgcolor="rgba(0,0,0,0)",
        itemwidth=52, entrywidthmode="pixels", entrywidth=112,
        font=dict(family=SANS, size=20, color=TXT), traceorder="normal",
    )

    # ------------------------------------------
    # Title and frame
    # ------------------------------------------
    layout["annotations"].append(dict(
        text=p["title"], xref="paper", yref="paper",
        x=px_x(p["title_xy"][0]), y=px_y(p["title_xy"][1]),
        xanchor="center", yanchor="middle", showarrow=False,
        font=dict(family=SERIF, size=29, color=TXT),
    ))
    bx0, bx1, by0, by1 = p["box"]
    layout["shapes"].append(dict(
        type="rect", xref="paper", yref="paper", layer="below",
        x0=px_x(bx0), x1=px_x(bx1), y0=px_y(by1), y1=px_y(by0),
        line=dict(color=GRID, width=1.5), fillcolor="rgba(0,0,0,0)",
    ))

fig.update_layout(**layout)
# the page body keeps a default 8px margin; drop it so the figure sits at the window corner
fig.write_html("out.html", config={"displayModeBar": False},
               post_script="document.body.style.margin='0';document.body.style.overflow='hidden';")
